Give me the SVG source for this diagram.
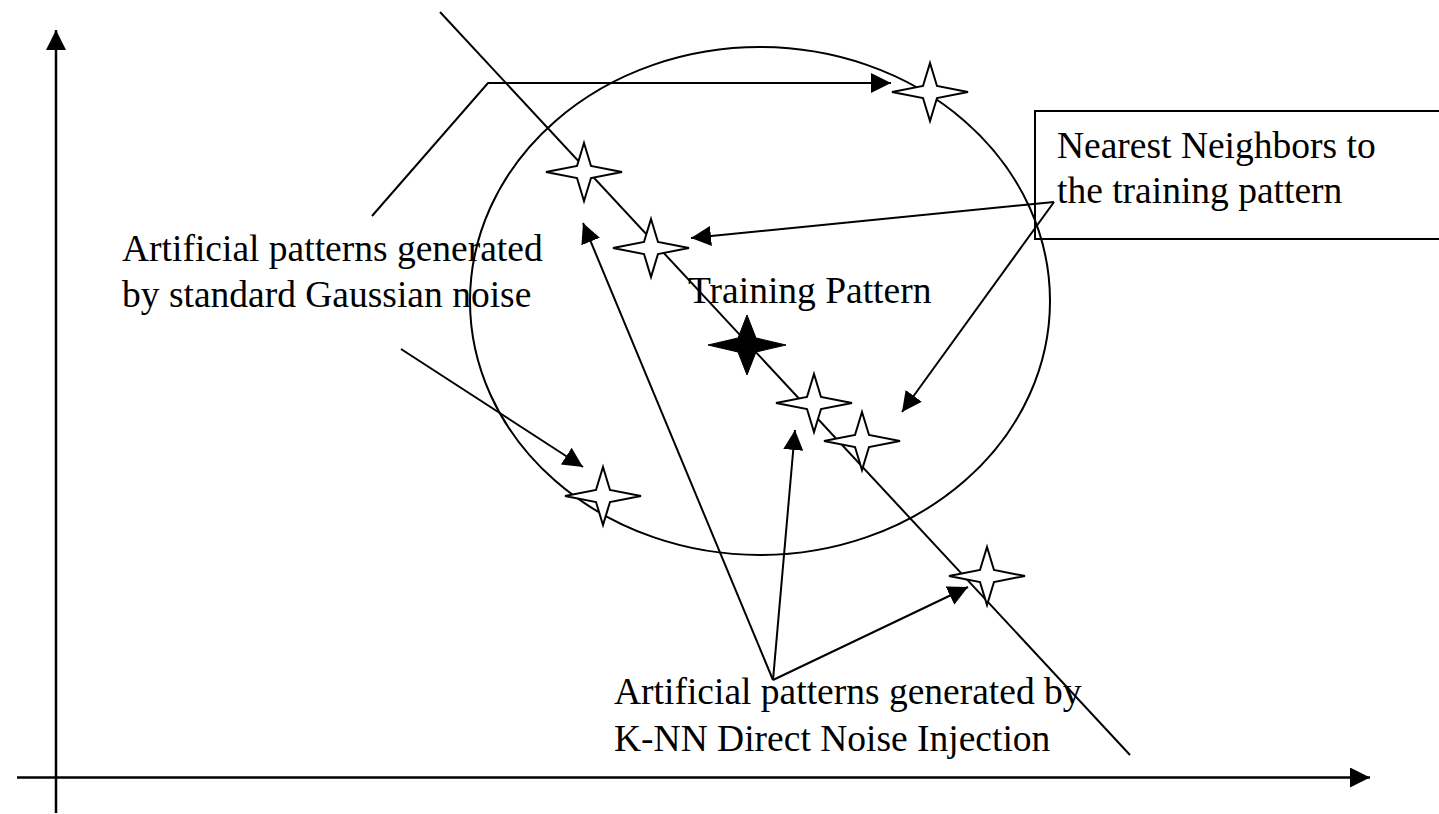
<svg xmlns="http://www.w3.org/2000/svg" width="1439" height="814" viewBox="0 0 1439 814">
<style>
.ln{fill:none;stroke:#000;stroke-width:2}
.ax{fill:none;stroke:#000;stroke-width:2.5}
.star{fill:#fff;stroke:#000;stroke-width:2;stroke-linejoin:miter}
.fstar{fill:#000;stroke:#000;stroke-width:1}
.t{font-family:"Liberation Serif","Times New Roman",serif;font-size:37.5px;fill:#000}
</style>
<defs>
<marker id="ah" viewBox="0 0 20 20" refX="20" refY="10" markerWidth="20" markerHeight="20" markerUnits="userSpaceOnUse" orient="auto">
<path d="M0,0 L20,10 L0,20 z" fill="#000"/>
</marker>
<polygon id="st" points="0,-29 7,-6 38,0 7,6 0,29 -7,6 -38,0 -7,-6"/>
</defs>
<rect width="1439" height="814" fill="#fff"/>
<g id="axes">
<line class="ax" x1="56" y1="813" x2="56" y2="30" marker-end="url(#ah)"/>
<line class="ax" x1="17" y1="777.5" x2="1370" y2="777.5" marker-end="url(#ah)"/>
</g>
<g id="ellipse"><ellipse class="ln" cx="760" cy="301" rx="290" ry="254"/></g>
<g id="diagonal"><line class="ln" x1="440" y1="12" x2="1130" y2="755"/></g>
<g id="nn-box"><rect class="ln" x="1035" y="111" width="420" height="128" stroke-width="1.5"/>
<text class="t" x="1057" y="158">Nearest Neighbors to</text>
<text class="t" x="1057" y="203">the training pattern</text></g>
<g id="stars">
<use href="#st" class="star" x="930" y="92"/>
<use href="#st" class="star" x="584" y="172"/>
<use href="#st" class="star" x="651" y="248"/>
<use href="#st" class="star" x="814" y="403"/>
<use href="#st" class="star" x="862" y="441"/>
<use href="#st" class="star" x="603" y="496"/>
<use href="#st" class="star" x="987" y="576"/>
</g>
<g id="training"><polygon class="fstar" points="747,315 756,338 786,345 756,352 747,375 738,352 708,345 738,338"/>
<text class="t" x="688" y="303">Training Pattern</text></g>
<g id="gauss-label"><text class="t" x="122" y="261">Artificial patterns generated</text>
<text class="t" x="122" y="307">by standard Gaussian noise</text></g>
<g id="knn-label"><text class="t" x="614" y="704">Artificial patterns generated by</text>
<text class="t" x="614" y="751">K-NN Direct Noise Injection</text></g>
<g id="connectors">
<polyline class="ln" points="372,216 488,83 891,83" marker-end="url(#ah)"/>
<line class="ln" x1="401" y1="349" x2="583" y2="467" marker-end="url(#ah)"/>
<line class="ln" x1="1054" y1="202" x2="691" y2="238" marker-end="url(#ah)"/>
<line class="ln" x1="1054" y1="202" x2="902" y2="412" marker-end="url(#ah)"/>
<line class="ln" x1="773" y1="680" x2="583" y2="223" marker-end="url(#ah)"/>
<line class="ln" x1="773" y1="680" x2="795" y2="430" marker-end="url(#ah)"/>
<line class="ln" x1="773" y1="680" x2="968" y2="587" marker-end="url(#ah)"/>
</g>
</svg>
